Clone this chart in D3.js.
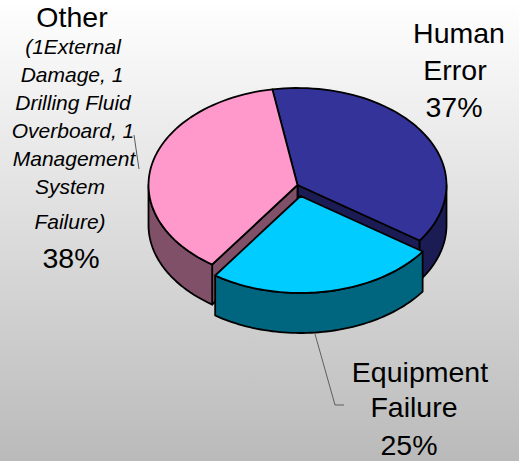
<!DOCTYPE html>
<html><head><meta charset="utf-8">
<script src="https://cdnjs.cloudflare.com/ajax/libs/d3/7.8.5/d3.min.js"></script>
<style>html,body{margin:0;padding:0;background:#fff;overflow:hidden}svg{display:block}text{font-family:"Liberation Sans",Arial,sans-serif;fill:#000}</style>
</head><body><svg id="c" width="519" height="461"></svg>
<script>
const categories=["Human Error","Equipment Failure","Other"];
const percents=[37.4,25,37.6];
const topColors=["#333399","#00ccff","#ff99cc"];
const sideColors=["#1c1c55","#006680","#805068"];
const explode=[0,1,0];
const labels=[
 {t:"Other",x:72,y:27,s:28.5},
 {t:"(1External",x:73,y:54,s:21,i:1},
 {t:"Damage, 1",x:72,y:82,s:21,i:1},
 {t:"Drilling Fluid",x:73,y:110,s:21,i:1},
 {t:"Overboard, 1",x:73,y:138,s:21,i:1},
 {t:"Management",x:74,y:166,s:21,i:1},
 {t:"System",x:70,y:194,s:21,i:1},
 {t:"Failure)",x:70,y:229,s:21,i:1},
 {t:"38%",x:71,y:268,s:28.5},
 {t:"Human",x:459,y:43,s:28.5},
 {t:"Error",x:455,y:80,s:28.5},
 {t:"37%",x:454,y:117,s:28.5},
 {t:"Equipment",x:420,y:382,s:28.5},
 {t:"Failure",x:414,y:417,s:28.5},
 {t:"25%",x:409,y:455,s:28.5}
];
const svg=d3.select("#c");
const defs=svg.append("defs");
const g=defs.append("linearGradient").attr("id","bg").attr("x1",0).attr("y1",0).attr("x2",0).attr("y2",1);
g.append("stop").attr("offset",0).attr("stop-color","#ffffff");
g.append("stop").attr("offset",1).attr("stop-color","#bababa");
svg.append("rect").attr("width",519).attr("height",461).attr("fill","url(#bg)");

const cx=297.5,cy=185,rx=149,ry=97,depth=40,dx=3,dy=11;
const rad=d3.scaleLinear().domain([0,360]).range([0,2*Math.PI]);
const start=rad(-9.7);
const arcs=d3.pie().sort(null).startAngle(start).endAngle(start+2*Math.PI)(percents);
const px=(a,o)=>(o?dx:0)+cx+rx*Math.sin(a);
const py=(a,o)=>(o?dy:0)+cy-ry*Math.cos(a);
const curve=(a0,a1,o,z)=>d3.range(0,61).map(i=>{const a=a0+(a1-a0)*i/60;return [px(a,o),py(a,o)+z];});
const line=d3.line();
const stroke={stroke:"#000","stroke-width":1.8,"stroke-linejoin":"round"};
function shape(d,fill){const p=svg.append("path").attr("d",d).attr("fill",fill);Object.entries(stroke).forEach(([k,v])=>p.attr(k,v));}
const wall=(a,o,fill)=>{const c=[(o?dx:0)+cx,(o?dy:0)+cy],e=[px(a,o),py(a,o)];
 shape(line([c,e,[e[0],e[1]+depth],[c[0],c[1]+depth]])+"Z",fill);};
const outer=(a0,a1,o,fill)=>{const lo=Math.max(a0,Math.PI/2),hi=Math.min(a1,1.5*Math.PI);if(hi<=lo)return;
 shape(line(curve(lo,hi,o,0).concat(curve(hi,lo,o,depth)))+"Z",fill);};
const topFace=(d,i)=>{const o=explode[i];shape(line([[(o?dx:0)+cx,(o?dy:0)+cy]].concat(curve(d.startAngle,d.endAngle,o,0)))+"Z",topColors[i]);};
[0,2,1].forEach(i=>{const d=arcs[i],o=explode[i];
 if(i===0){wall(d.endAngle,o,sideColors[i]);}
 if(i===2){wall(d.startAngle,o,sideColors[i]);}
 outer(d.startAngle,d.endAngle,o,sideColors[i]);
 topFace(d,i);
});
svg.append("path").attr("d",line([[134,135],[139,169]])).attr("fill","none").attr("stroke","#333").attr("stroke-width",0.8);
svg.append("path").attr("d",line([[315,334],[335,405],[344,405]])).attr("fill","none").attr("stroke","#444").attr("stroke-width",0.8);
svg.selectAll("text.l").data(labels).join("text").attr("class","l")
 .attr("x",d=>d.x).attr("y",d=>d.y).attr("text-anchor","middle")
 .attr("font-size",d=>d.s).attr("font-style",d=>d.i?"italic":"normal").text(d=>d.t);
</script></body></html>
